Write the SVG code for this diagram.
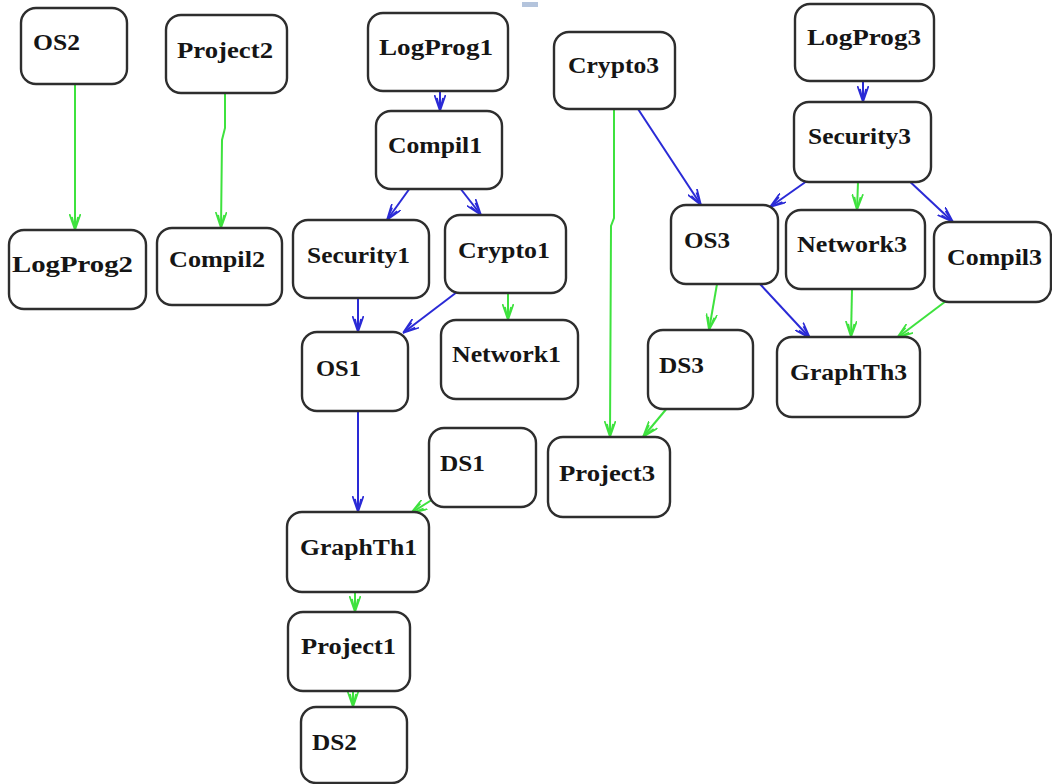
<svg xmlns="http://www.w3.org/2000/svg" width="1052" height="784" viewBox="0 0 1052 784">
  <style>
    .box { fill: #ffffff; stroke: #2e2e2e; stroke-width: 2.4; }
    .lbl { font-family: "Liberation Serif", "Times New Roman", serif; font-weight: bold; font-size: 24px; fill: #151515; }
    .g { fill: none; stroke: #3ee23e; stroke-width: 2; marker-end: url(#arrowG); }
    .b { fill: none; stroke: #2a2ad6; stroke-width: 2; marker-end: url(#arrowB); }
  </style>
  <defs>
    <marker id="arrowG" viewBox="0 0 16 12" refX="16" refY="6" markerWidth="16" markerHeight="12" markerUnits="userSpaceOnUse" orient="auto">
      <path d="M0,0.5 L16,6 L0,11.5 M3,3 L16,6 L3,9" fill="none" stroke="#3ee23e" stroke-width="1.7"/>
    </marker>
    <marker id="arrowB" viewBox="0 0 16 12" refX="16" refY="6" markerWidth="16" markerHeight="12" markerUnits="userSpaceOnUse" orient="auto">
      <path d="M0,0.5 L16,6 L0,11.5 M3,3 L16,6 L3,9" fill="none" stroke="#2a2ad6" stroke-width="1.7"/>
    </marker>
  </defs>
  <rect width="1052" height="784" fill="#ffffff"/>
  <rect x="522" y="2" width="16" height="5" fill="#b4c4dc"/>

  <g id="connectors">
    <path class="g" d="M75,85 L75,230"/>
    <path class="g" d="M225,93 L225,128 L222,140 L221,228"/>
    <path class="b" d="M440,91 L440,111"/>
    <path class="b" d="M410,188 L387,220"/>
    <path class="b" d="M460,188 L481,215"/>
    <path class="b" d="M358,298 L358,332"/>
    <path class="b" d="M457,292 L403,333"/>
    <path class="g" d="M508,293 L508,320"/>
    <path class="b" d="M358,411 L358,512"/>
    <path class="g" d="M438,496 L411,513"/>
    <path class="g" d="M355,592 L355,612"/>
    <path class="g" d="M353,691 L353,707"/>
    <path class="g" d="M614,109 L614,218 L611,226 L610,437"/>
    <path class="b" d="M638,109 L701,205"/>
    <path class="b" d="M863,81 L863,102"/>
    <path class="b" d="M814,176 L770,207"/>
    <path class="g" d="M858,182 L857,210"/>
    <path class="b" d="M906,178 L953,222"/>
    <path class="g" d="M717,284 L709,330"/>
    <path class="b" d="M760,284 L810,338"/>
    <path class="g" d="M852,289 L851,337"/>
    <path class="g" d="M950,298 L897,338"/>
    <path class="g" d="M668,407 L643,437"/>
  </g>

  <g id="OS2"><rect class="box" x="21" y="8" width="106" height="76" rx="15"/><text class="lbl" x="33" y="50" textLength="47" lengthAdjust="spacingAndGlyphs">OS2</text></g>
  <g id="Project2"><rect class="box" x="166" y="15" width="121" height="78" rx="15"/><text class="lbl" x="177" y="58" textLength="96" lengthAdjust="spacingAndGlyphs">Project2</text></g>
  <g id="LogProg2"><rect class="box" x="9" y="230" width="137" height="79" rx="15"/><text class="lbl" x="12" y="272" textLength="121" lengthAdjust="spacingAndGlyphs">LogProg2</text></g>
  <g id="Compil2"><rect class="box" x="157" y="228" width="125" height="77" rx="15"/><text class="lbl" x="169" y="267" textLength="96" lengthAdjust="spacingAndGlyphs">Compil2</text></g>
  <g id="LogProg1"><rect class="box" x="368" y="13" width="140" height="78" rx="15"/><text class="lbl" x="379" y="55" textLength="114" lengthAdjust="spacingAndGlyphs">LogProg1</text></g>
  <g id="Compil1"><rect class="box" x="376" y="111" width="126" height="78" rx="15"/><text class="lbl" x="388" y="153" textLength="94" lengthAdjust="spacingAndGlyphs">Compil1</text></g>
  <g id="Security1"><rect class="box" x="293" y="220" width="136" height="78" rx="15"/><text class="lbl" x="307" y="263" textLength="103" lengthAdjust="spacingAndGlyphs">Security1</text></g>
  <g id="Crypto1"><rect class="box" x="445" y="215" width="121" height="78" rx="15"/><text class="lbl" x="458" y="258" textLength="92" lengthAdjust="spacingAndGlyphs">Crypto1</text></g>
  <g id="OS1"><rect class="box" x="302" y="332" width="106" height="79" rx="15"/><text class="lbl" x="316" y="376" textLength="45" lengthAdjust="spacingAndGlyphs">OS1</text></g>
  <g id="Network1"><rect class="box" x="441" y="320" width="137" height="79" rx="15"/><text class="lbl" x="452" y="362" textLength="109" lengthAdjust="spacingAndGlyphs">Network1</text></g>
  <g id="DS1"><rect class="box" x="429" y="428" width="107" height="79" rx="15"/><text class="lbl" x="440" y="471" textLength="45" lengthAdjust="spacingAndGlyphs">DS1</text></g>
  <g id="GraphTh1"><rect class="box" x="287" y="512" width="142" height="80" rx="15"/><text class="lbl" x="300" y="555" textLength="117" lengthAdjust="spacingAndGlyphs">GraphTh1</text></g>
  <g id="Project1"><rect class="box" x="288" y="612" width="122" height="79" rx="15"/><text class="lbl" x="301" y="654" textLength="95" lengthAdjust="spacingAndGlyphs">Project1</text></g>
  <g id="DS2"><rect class="box" x="301" y="707" width="106" height="76" rx="15"/><text class="lbl" x="312" y="750" textLength="45" lengthAdjust="spacingAndGlyphs">DS2</text></g>
  <g id="Crypto3"><rect class="box" x="554" y="32" width="121" height="77" rx="15"/><text class="lbl" x="568" y="73" textLength="91" lengthAdjust="spacingAndGlyphs">Crypto3</text></g>
  <g id="LogProg3"><rect class="box" x="795" y="4" width="139" height="77" rx="15"/><text class="lbl" x="807" y="45" textLength="114" lengthAdjust="spacingAndGlyphs">LogProg3</text></g>
  <g id="Security3"><rect class="box" x="794" y="102" width="137" height="80" rx="15"/><text class="lbl" x="808" y="144" textLength="103" lengthAdjust="spacingAndGlyphs">Security3</text></g>
  <g id="OS3"><rect class="box" x="671" y="205" width="107" height="79" rx="15"/><text class="lbl" x="684" y="248" textLength="46" lengthAdjust="spacingAndGlyphs">OS3</text></g>
  <g id="Network3"><rect class="box" x="786" y="210" width="139" height="79" rx="15"/><text class="lbl" x="797" y="252" textLength="110" lengthAdjust="spacingAndGlyphs">Network3</text></g>
  <g id="Compil3"><rect class="box" x="934" y="222" width="117" height="80" rx="15"/><text class="lbl" x="947" y="265" textLength="95" lengthAdjust="spacingAndGlyphs">Compil3</text></g>
  <g id="DS3"><rect class="box" x="648" y="330" width="105" height="79" rx="15"/><text class="lbl" x="659" y="373" textLength="45" lengthAdjust="spacingAndGlyphs">DS3</text></g>
  <g id="GraphTh3"><rect class="box" x="777" y="337" width="143" height="80" rx="15"/><text class="lbl" x="790" y="380" textLength="117" lengthAdjust="spacingAndGlyphs">GraphTh3</text></g>
  <g id="Project3"><rect class="box" x="548" y="437" width="122" height="80" rx="15"/><text class="lbl" x="559" y="481" textLength="96" lengthAdjust="spacingAndGlyphs">Project3</text></g>
</svg>
